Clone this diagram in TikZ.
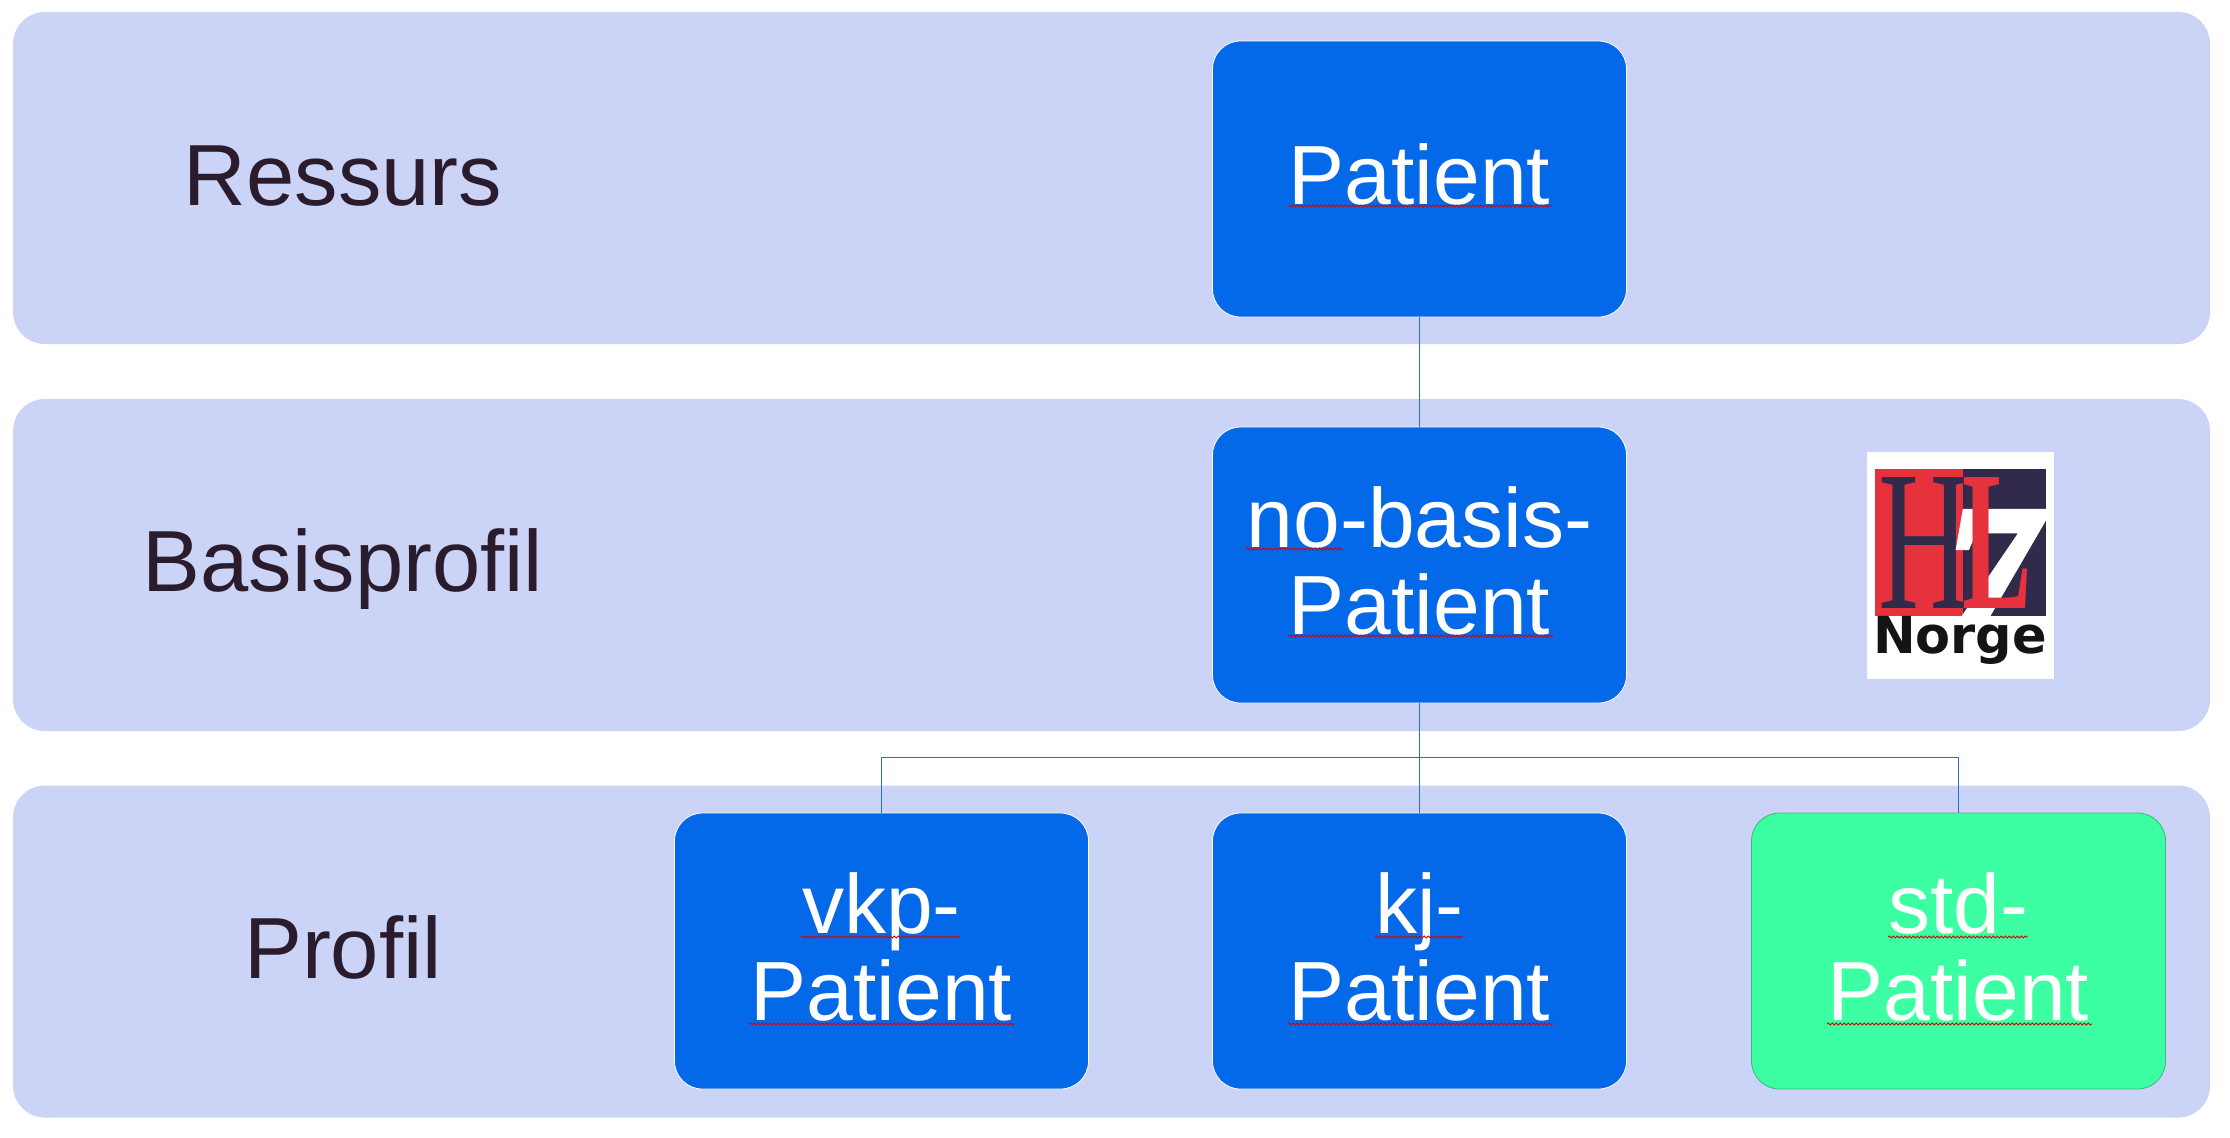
\documentclass[tikz,border=0pt]{standalone}
\usepackage{fontspec}
\usepackage{xcolor}
\usetikzlibrary{positioning,decorations.pathmorphing}
\setmainfont[Ligatures=NoCommon]{Liberation Sans}
\newfontfamily\logoserif[BoldItalicFeatures={FakeBold=3}]{Liberation Serif}
\newfontfamily\logosans{DejaVu Sans}
\definecolor{bandblue}{HTML}{CBD3F6}
\definecolor{boxblue}{HTML}{0369E8}
\definecolor{boxgreen}{HTML}{3CFFA3}
\definecolor{linegreen}{HTML}{3AB67F}
\definecolor{linkblue}{HTML}{2A6FD0}
\definecolor{labeldark}{HTML}{2A1B2D}
\definecolor{logored}{HTML}{E6323C}
\definecolor{logodark}{HTML}{322A4A}
\tikzset{
	band/.style={fill=bandblue, rounded corners=16pt, minimum width=1098.5pt, minimum height=166pt, inner sep=0pt},
	layername/.style={anchor=base, inner sep=0pt, text=labeldark, font=\fontsize{43.4}{43.5}\selectfont},
	patientbox/.style={draw=white, line width=0.4pt, fill=boxblue, rounded corners=14pt, minimum width=207pt, minimum height=138pt, inner sep=0pt, outer sep=0pt, align=center, text=white, text height=31pt, text depth=5.5pt, font=\fontsize{42}{43.5}\selectfont},
	twolines/.style={text height=75pt, text depth=5.5pt},
	greenbox/.style={patientbox, twolines, draw=linegreen, fill=boxgreen},
	link/.style={draw=linkblue, line width=0.5pt},
	spellmark/.style={draw=red!85!black, line width=0.45pt, decorate, decoration={snake, segment length=2pt, amplitude=0.5pt}}
}
\begin{document}
\begin{tikzpicture}[x=0.5pt, y=-0.5pt]
	\useasboundingbox (0,0) rectangle (2230,1137);
	% layers
	\node[band] (ressurs) at (1111.5,178) {};
	\node[band] (basis) at (1111.5,565) {};
	\node[band] (profil) at (1111.5,951.5) {};
	\node[layername] (ressursname) at (343,205) {Ressurs};
	\node[layername] (basisname) at (343,591) {Basisprofil};
	\node[layername] (profilname) at (343,978) {Profil};
	% boxes
	\node[patientbox] (patient) at (1419.5,179) {Patient};
	\node[patientbox, twolines, below=55pt of patient] (nobasis) {no-basis-\\Patient};
	\node[patientbox, twolines, below=55pt of nobasis] (kj) {kj-\\Patient};
	\node[patientbox, twolines, left=62pt of kj] (vkp) {vkp-\\Patient};
	\node[greenbox, right=62.5pt of kj] (std) {std-\\Patient};
	% links
	\coordinate (bus) at (nobasis.south |- 0,757.5);
	\draw[link] (patient) -- (nobasis);
	\draw[link] (nobasis) -- (kj);
	\draw[link] (bus) -| (vkp);
	\draw[link] (bus) -| (std);
	% spell checker marks
	\foreach \xa/\xb/\ya in {1288/1552/206, 1246/1343/549, 1288/1553/636, 801/960/937, 749/1014/1024, 1375/1463/937, 1288/1553/1024, 1888/2028/937, 1827/2092/1024}
		\draw[spellmark] (\xa,\ya) -- (\xb,\ya);
	% logo
	\fill[white] (1867,452) rectangle (2054,679);
	\fill[logored] (1875,469) rectangle (1963,616);
	\fill[logodark] (1963,469) rectangle (2046,616);
	\node[anchor=base, inner sep=0pt, text=logodark, font=\logoserif\fontsize{100}{100}\selectfont] (logoh) at (1925,608) {\scalebox{0.64}[1]{H}};
	\node[anchor=base, inner sep=0pt, text=white, font=\logoserif\bfseries\itshape\fontsize{95}{95}\selectfont] (logoseven) at (1991,636) {7};
	\node[anchor=base, inner sep=0pt, text=logored, font=\logoserif\bfseries\fontsize{100}{100}\selectfont] (logol) at (1997,608) {\scalebox{0.52}[1]{L}};
	\node[anchor=base, inner sep=0pt, text=black!92, font=\logosans\bfseries\fontsize{25.5}{25.5}\selectfont] (logoname) at (1960,653) {Norge};
\end{tikzpicture}
\end{document}
